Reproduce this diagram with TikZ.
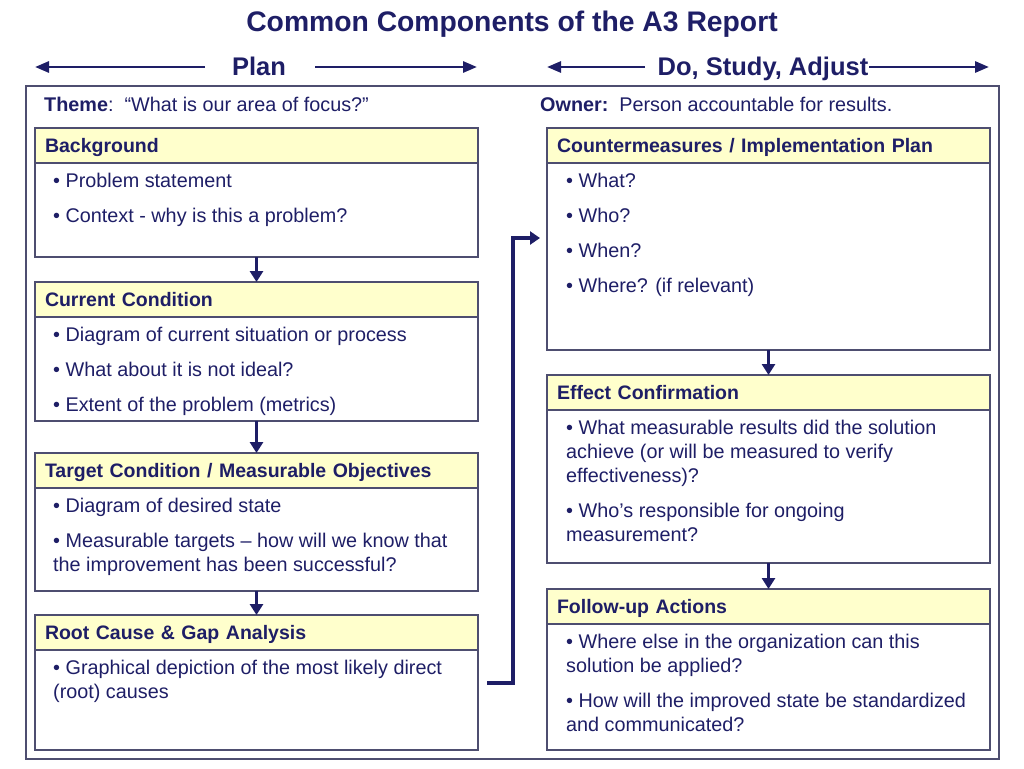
\documentclass[tikz,border=0pt]{standalone}
\usepackage{fontspec}
\setmainfont{Liberation Sans}
\usepackage{tikz}
\usetikzlibrary{positioning}
\usetikzlibrary{arrows.meta}

\definecolor{a3navy}{RGB}{30,30,102}
\definecolor{a3hdr}{RGB}{255,255,204}
\definecolor{a3line}{RGB}{78,78,112}

\tikzset{
	hdrbox/.style={draw=a3line, line width=1.2pt, fill=a3hdr, anchor=north west,
		text width=423pt, inner xsep=10pt, inner ysep=0pt, outer sep=0pt,
		minimum height=35pt, text depth=0pt, align=left, text=a3navy,
		font=\fontsize{19.5}{22}\selectfont\bfseries},
	bodybox/.style={draw=a3line, line width=1.2pt, minimum width=443pt,
		inner sep=0pt, outer sep=0pt},
	bodytext/.style={anchor=north west, inner sep=0pt, align=left, text=a3navy,
		font=\fontsize{19.8}{24}\selectfont},
	flowarrow/.style={draw=a3navy, line width=3.2pt, -{Triangle[width=13pt,length=11pt]}},
	looparrow/.style={draw=a3navy, line width=3.6pt, -{Triangle[width=13pt,length=10pt]}},
	phasearrow/.style={draw=a3navy, line width=2.8pt, -{Triangle[width=11pt,length=14pt]}}
}

\begin{document}
\begin{tikzpicture}[x=1pt, y=-1pt]
	
	\useasboundingbox (0,0) rectangle (1024,768);
	
	% Title and the two phase labels (positions in pixels from the top left)
	\node[anchor=base, text=a3navy, font=\fontsize{28.3}{32}\selectfont\bfseries]
		(T) at (512,32) {Common Components of the A3 Report};
	\node[anchor=base, text=a3navy, font=\fontsize{25.5}{28}\selectfont\bfseries]
		(P) at (259,75) {Plan};
	\node[anchor=base, text=a3navy, font=\fontsize{25.5}{28}\selectfont\bfseries]
		(D) at (763,75) {Do, Study, Adjust};
	
	\coordinate (P0) at (35,67);
	\coordinate (P1) at (205,67);
	\coordinate (P2) at (315,67);
	\coordinate (P3) at (477,67);
	\coordinate (D0) at (547,67);
	\coordinate (D1) at (645,67);
	\coordinate (D2) at (869,67);
	\coordinate (D3) at (989,67);
	
	\draw[phasearrow] (P1) -- (P0);
	\draw[phasearrow] (P2) -- (P3);
	\draw[phasearrow] (D1) -- (D0);
	\draw[phasearrow] (D2) -- (D3);
	
	% outer frame
	\draw[draw=a3line, line width=1.2pt] (26,86) rectangle (999,759);
	
	\node[anchor=base west, inner sep=0pt, text=a3navy, font=\fontsize{19.8}{22}\selectfont]
		(TH) at (44,111) {\textbf{Theme}:\ \ “What is our area of focus?”};
	\node[anchor=base west, inner sep=0pt, text=a3navy, font=\fontsize{19.8}{22}\selectfont]
		(OW) at (540,111) {\textbf{Owner:}\ \ Person accountable for results.};
	
	%%%%%%%%%%%%%%%%%%%%%%%%%%%%%%%%%%%%%%%%%%%%%%%%%%%%%%%%%%%%%%
	% Plan column
	
	\node[hdrbox] (BGh) at (35,128) {Background};
	\node[bodybox, minimum height=94pt, below=0pt of BGh] (BGb) {};
	\node[bodytext, below right=10pt and 18pt of BGb.north west] (BGt)
		{• Problem statement\\[11pt]• Context - why is this a problem?};
	
	\node[hdrbox] (CCh) at (35,282) {Current Condition};
	\node[bodybox, minimum height=104pt, below=0pt of CCh] (CCb) {};
	\node[bodytext, below right=10pt and 18pt of CCb.north west] (CCt)
		{• Diagram of current situation or process\\[11pt]• What about it is not ideal?\\[11pt]• Extent of the problem (metrics)};
	
	\node[hdrbox] (TCh) at (35,453) {Target Condition / Measurable Objectives};
	\node[bodybox, minimum height=103pt, below=0pt of TCh] (TCb) {};
	\node[bodytext, below right=10pt and 18pt of TCb.north west] (TCt)
		{• Diagram of desired state\\[11pt]• Measurable targets – how will we know that\\the improvement has been successful?};
	
	\node[hdrbox] (RCh) at (35,615) {Root Cause \& Gap Analysis};
	\node[bodybox, minimum height=100pt, below=0pt of RCh] (RCb) {};
	\node[bodytext, below right=10pt and 18pt of RCb.north west] (RCt)
		{• Graphical depiction of the most likely direct\\(root) causes};
	
	\draw[flowarrow] (BGb) -- (CCh);
	\draw[flowarrow] (CCb) -- (TCh);
	\draw[flowarrow] (TCb) -- (RCh);
	
	%%%%%%%%%%%%%%%%%%%%%%%%%%%%%%%%%%%%%%%%%%%%%%%%%%%%%%%%%%%%%%
	% Do, Study, Adjust column
	
	\node[hdrbox] (CMh) at (547,128) {Countermeasures / Implementation Plan};
	\node[bodybox, minimum height=187pt, below=0pt of CMh] (CMb) {};
	\node[bodytext, below right=10pt and 19pt of CMb.north west] (CMt)
		{• What?\\[11pt]• Who?\\[11pt]• When?\\[11pt]• Where? (if relevant)};
	
	\node[hdrbox] (ECh) at (547,375) {Effect Confirmation};
	\node[bodybox, minimum height=153pt, below=0pt of ECh] (ECb) {};
	\node[bodytext, below right=10pt and 19pt of ECb.north west] (ECt)
		{• What measurable results did the solution\\achieve (or will be measured to verify\\effectiveness)?\\[11pt]• Who’s responsible for ongoing\\measurement?};
	
	\node[hdrbox] (FUh) at (547,589) {Follow-up Actions};
	\node[bodybox, minimum height=126pt, below=0pt of FUh] (FUb) {};
	\node[bodytext, below right=10pt and 19pt of FUb.north west] (FUt)
		{• Where else in the organization can this\\solution be applied?\\[11pt]• How will the improved state be standardized\\and communicated?};
	
	\draw[flowarrow] (CMb) -- (ECh);
	\draw[flowarrow] (ECb) -- (FUh);
	
	% the link from the plan side over to the countermeasures
	\coordinate (L0) at (487,683);
	\coordinate (L1) at (540,238);
	\draw[looparrow] (L0) -| (513,238) -- (L1);
	
\end{tikzpicture}
\end{document}
